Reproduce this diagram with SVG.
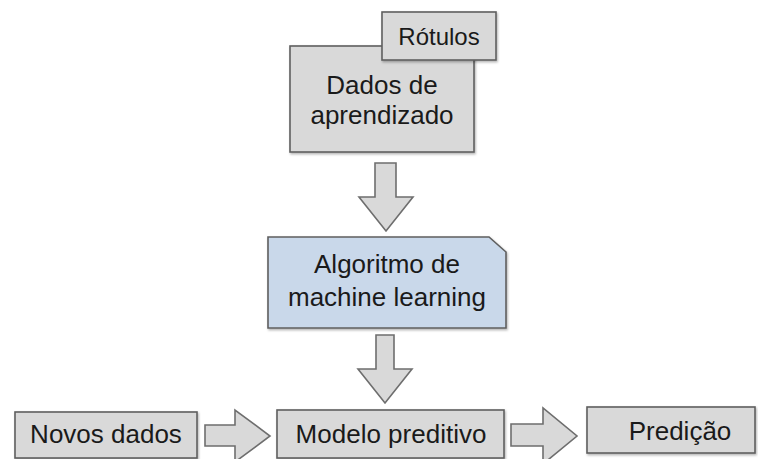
<svg xmlns="http://www.w3.org/2000/svg" width="758" height="459" viewBox="0 0 758 459">
  <defs>
    <filter id="shadow" x="-5%" y="-5%" width="110%" height="115%">
      <feDropShadow dx="1" dy="1.5" stdDeviation="0.8" flood-color="#000" flood-opacity="0.3"/>
    </filter>
  </defs>
  <style>
    .box { fill: #d9d9d9; stroke: #5f5f5f; stroke-width: 1.6; filter: url(#shadow); }
    .algo { fill: #c9d8ea; stroke: #5f5f5f; stroke-width: 1.6; filter: url(#shadow); }
    .arrow { fill: #d9d9d9; stroke: #6e6e6e; stroke-width: 1.6; stroke-linejoin: miter; }
    .label { font-family: "Liberation Sans", Arial, sans-serif; font-size: 26px; fill: #1a1a1a; text-anchor: middle; }
    .small { font-size: 24px; }
  </style>
  <rect width="758" height="459" fill="#ffffff"/>

  <!-- Connectors: block arrows -->
  <g id="connectors">
    <path class="arrow" d="M375,163 H396 V197 H413 L386,231 L359,197 H375 Z"/>
    <path class="arrow" d="M376,335 H394 V369 H412 L385,403 L358,369 H376 Z"/>
    <path class="arrow" d="M205,425 H235 V410 L270,436 L235,462 V446 H205 Z"/>
    <path class="arrow" d="M511,424 H543 V408 L577,436 L543,464 V446 H511 Z"/>
  </g>

  <g id="dados">
    <rect class="box" x="290" y="46" width="184" height="106"/>
    <text class="label" x="382" y="94">Dados de</text>
    <text class="label" x="382" y="124">aprendizado</text>
  </g>

  <g id="rotulos">
    <rect class="box" x="382" y="12" width="114" height="48"/>
    <text class="label small" x="439" y="45">Rótulos</text>
  </g>

  <g id="algoritmo">
    <path class="algo" d="M268,237 H489 L506,252 V328 H268 Z"/>
    <text class="label" x="387" y="273">Algoritmo de</text>
    <text class="label" x="387" y="306">machine learning</text>
  </g>

  <g id="novos-dados">
    <rect class="box" x="15" y="412" width="182" height="46"/>
    <text class="label" x="106" y="443">Novos dados</text>
  </g>

  <g id="modelo">
    <rect class="box" x="277" y="410" width="227" height="48"/>
    <text class="label" x="391" y="443">Modelo preditivo</text>
  </g>

  <g id="predicao">
    <rect class="box" x="587" y="407" width="168" height="46"/>
    <text class="label" x="680" y="440">Predição</text>
  </g>
</svg>
